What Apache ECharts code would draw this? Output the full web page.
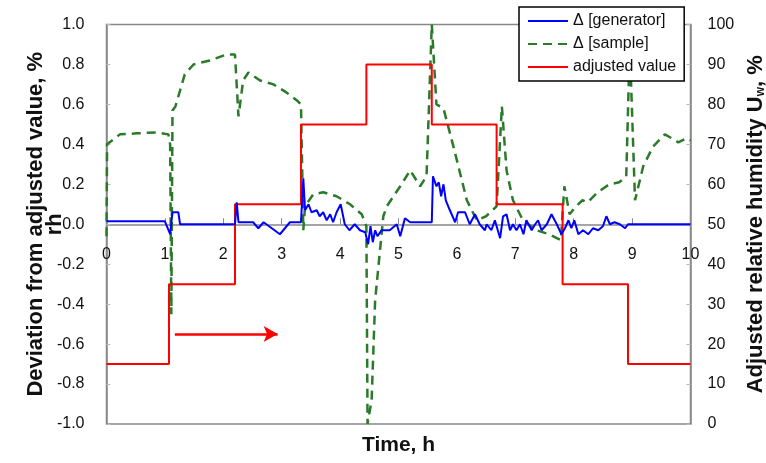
<!DOCTYPE html>
<html>
<head>
<meta charset="utf-8">
<script src="https://cdn.jsdelivr.net/npm/echarts@6/dist/echarts.min.js"></script>
<style>
  html, body { margin: 0; padding: 0; background: #fff; }
  #main { width: 766px; height: 463px; }
</style>
</head>
<body>
<div id="main"></div>
<script>
// time axis, h
var xTicks = [0, 1, 2, 3, 4, 5, 6, 7, 8, 9, 10];

// Δ [generator] (left axis, % rh)
var genTime = [0, 1.0, 1.09, 1.13, 1.23, 1.26, 2.2, 2.23, 2.26, 2.51, 2.6, 2.69, 2.97, 3.14, 3.33, 3.37, 3.4, 3.46, 3.51, 3.6, 3.65, 3.71, 3.77, 3.83, 3.88, 3.94, 4.01, 4.08, 4.16, 4.25, 4.34, 4.43, 4.48, 4.52, 4.56, 4.6, 4.64, 4.71, 4.85, 4.97, 5.03, 5.11, 5.2, 5.57, 5.59, 5.65, 5.69, 5.73, 5.77, 5.81, 5.88, 5.97, 6.02, 6.14, 6.22, 6.31, 6.39, 6.48, 6.51, 6.59, 6.65, 6.74, 6.79, 6.85, 6.91, 6.96, 7.02, 7.08, 7.14, 7.19, 7.28, 7.34, 7.39, 7.45, 7.54, 7.62, 7.71, 7.79, 7.85, 7.91, 7.96, 8.01, 8.08, 8.16, 8.25, 8.33, 8.42, 8.5, 8.56, 8.62, 8.7, 8.79, 8.88, 8.93, 8.99, 10];
var genDev = [0.015, 0.015, -0.05, 0.06, 0.06, 0.0, 0.0, 0.11, 0.01, 0.01, -0.02, 0.01, -0.05, 0.01, 0.01, 0.23, 0.07, 0.10, 0.06, 0.07, 0.04, 0.06, 0.02, 0.05, 0.01, 0.06, 0.10, 0.0, -0.03, 0.0, -0.03, -0.04, -0.10, -0.01, -0.09, -0.03, -0.06, -0.03, -0.03, 0.0, -0.06, 0.03, 0.01, 0.01, 0.24, 0.19, 0.21, 0.14, 0.20, 0.12, 0.07, 0.01, 0.06, 0.06, 0.0, 0.05, 0.0, -0.03, 0.0, -0.03, 0.02, -0.07, 0.04, 0.05, -0.03, 0.0, -0.03, 0.0, -0.05, 0.02, -0.03, 0.0, 0.02, -0.03, 0.0, 0.05, 0.0, -0.05, -0.02, 0.02, -0.02, 0.02, -0.05, -0.03, -0.05, -0.02, -0.03, -0.01, 0.04, 0.0, 0.01, 0.0, -0.02, 0.0, 0.0, 0.0];

// Δ [sample] (left axis, % rh)
var sampleTime = [0, 0.01, 0.23, 0.52, 0.86, 1.06, 1.09, 1.11, 1.13, 1.18, 1.34, 1.49, 1.77, 2.06, 2.2, 2.26, 2.34, 2.43, 2.63, 2.86, 3.08, 3.26, 3.33, 3.37, 3.4, 3.54, 3.71, 3.94, 4.17, 4.37, 4.45, 4.47, 4.54, 4.6, 4.74, 4.8, 5.03, 5.2, 5.37, 5.48, 5.57, 5.65, 5.77, 5.94, 6.17, 6.34, 6.5, 6.68, 6.77, 6.85, 6.96, 7.13, 7.36, 7.58, 7.78, 7.84, 7.93, 8.04, 8.15, 8.24, 8.41, 8.61, 8.78, 8.9, 8.96, 9.05, 9.19, 9.36, 9.56, 9.68, 9.79, 9.93, 10];
var sampleDev = [-0.06, 0.40, 0.45, 0.455, 0.46, 0.45, 0.40, -0.45, 0.57, 0.59, 0.75, 0.80, 0.82, 0.85, 0.85, 0.54, 0.72, 0.76, 0.72, 0.70, 0.66, 0.62, 0.60, -0.03, 0.09, 0.15, 0.16, 0.14, 0.10, 0.05, -0.01, -1.0, -0.88, -0.38, 0.04, 0.09, 0.19, 0.27, 0.19, 0.24, 1.0, 0.60, 0.58, 0.39, 0.12, 0.02, 0.04, 0.09, 0.59, 0.27, 0.12, 0.02, -0.03, -0.05, -0.08, 0.19, 0.05, 0.09, 0.12, 0.11, 0.16, 0.20, 0.21, 0.24, 0.9, 0.12, 0.29, 0.39, 0.45, 0.43, 0.41, 0.43, 0.42];

// adjusted value (right axis, Uw %)
var adjTime = [0, 1.07, 2.2, 3.33, 4.45, 5.57, 6.68, 7.81, 8.93, 10];
var adjValue = [15, 35, 55, 75, 90, 75, 55, 35, 15, 15];

// red arrow (time, Uw %)
var arrowFrom = [1.17, 22.5];
var arrowTo = [2.93, 22.5];

function zip(a, b) {
    var out = [];
    for (var i = 0; i < a.length; i++) out.push([a[i], b[i]]);
    return out;
}

var axisGrey = '#888888';
var font = '"Liberation Sans", Arial, sans-serif';
var gridTop = 24.5, gridBottom = 39;
var gridHeight = 463 - gridTop - gridBottom;

var chart = echarts.init(document.getElementById('main'));
chart.setOption({
    animation: false,
    textStyle: { fontFamily: font },
    grid: {
        left: 106.5, right: 75.5, top: gridTop, bottom: gridBottom,
        outerBoundsMode: 'none',
        containLabel: false,
        show: true, borderColor: axisGrey, borderWidth: 1.5
    },
    legend: {
        orient: 'vertical',
        left: 519, top: 7,
        padding: [6, 8, 6, 8],
        itemGap: 7,
        itemWidth: 40, itemHeight: 14,
        backgroundColor: '#fff',
        borderColor: '#000', borderWidth: 1.5,
        itemStyle: { opacity: 0 },
        textStyle: { fontSize: 16, color: '#111', fontFamily: font },
        data: ['Δ [generator]', 'Δ [sample]', 'adjusted value']
    },
    xAxis: {
        type: 'value', min: 0, max: 10, interval: 1,
        position: 'bottom',
        offset: -gridHeight / 2,   // x axis crosses the left axis at 0.0
        name: 'Time, h', nameLocation: 'middle', nameGap: 210,
        nameMoveOverlap: false,
        nameTextStyle: { fontSize: 21, fontWeight: 'bold', color: '#111' },
        axisLine: { onZero: false, lineStyle: { color: axisGrey, width: 1.5 } },
        axisTick: { inside: true, length: 6, lineStyle: { color: axisGrey } },
        axisLabel: { fontSize: 16, color: '#111', margin: 22,
            customValues: xTicks },
        splitLine: { show: false }
    },
    yAxis: [{
        type: 'value', min: -1, max: 1, interval: 0.2,
        name: 'Deviation from adjusted value, %\nrh',
        nameLocation: 'middle', nameGap: 42,
        nameMoveOverlap: false,
        nameTextStyle: { fontSize: 22, fontWeight: 'bold', color: '#111', lineHeight: 19 },
        axisLine: { show: true, lineStyle: { color: axisGrey, width: 1.5 } },
        axisTick: { show: true, inside: true, length: 4, lineStyle: { color: '#bbb' } },
        axisLabel: { fontSize: 16, color: '#111', margin: 22,
            formatter: function (v) { return v.toFixed(1); } },
        splitLine: { show: false }
    }, {
        type: 'value', min: 0, max: 100, interval: 10,
        position: 'right',
        name: 'Adjusted relative humidity U{sub|w}, %',
        nameLocation: 'middle', nameGap: 54,
        nameMoveOverlap: false,
        nameTextStyle: { fontSize: 22, fontWeight: 'bold', color: '#111',
            rich: { sub: { fontSize: 12, fontWeight: 'bold', color: '#111', verticalAlign: 'bottom', padding: [8, 0, 0, 0] } } },
        axisLine: { show: true, lineStyle: { color: axisGrey, width: 1.5 } },
        axisTick: { show: true, inside: true, length: 4, lineStyle: { color: '#bbb' } },
        axisLabel: { fontSize: 16, color: '#111', margin: 17 },
        splitLine: { show: false }
    }],
    series: [{
        name: 'Δ [generator]',
        type: 'line',
        yAxisIndex: 0,
        showSymbol: false, symbol: 'none',
        color: '#0000ff',
        lineStyle: { color: '#0000ff', width: 2 },
        data: zip(genTime, genDev),
        z: 3
    }, {
        name: 'Δ [sample]',
        type: 'line',
        yAxisIndex: 0,
        showSymbol: false, symbol: 'none',
        color: '#2a7a2a',
        lineStyle: { color: '#2a7a2a', width: 2.5, type: [9, 6] },
        data: zip(sampleTime, sampleDev),
        z: 2
    }, {
        name: 'adjusted value',
        type: 'line',
        yAxisIndex: 1,
        step: 'end',
        showSymbol: false, symbol: 'none',
        color: '#ff0000',
        lineStyle: { color: '#ff0000', width: 2 },
        data: zip(adjTime, adjValue),
        z: 2,
        markLine: {
            silent: true,
            symbol: ['none', 'arrow'],
            symbolSize: [12, 14],
            label: { show: false },
            lineStyle: { color: '#ff0000', width: 2.5, type: 'solid' },
            data: [[{ coord: arrowFrom }, { coord: arrowTo }]]
        }
    }]
});
</script>
</body>
</html>
